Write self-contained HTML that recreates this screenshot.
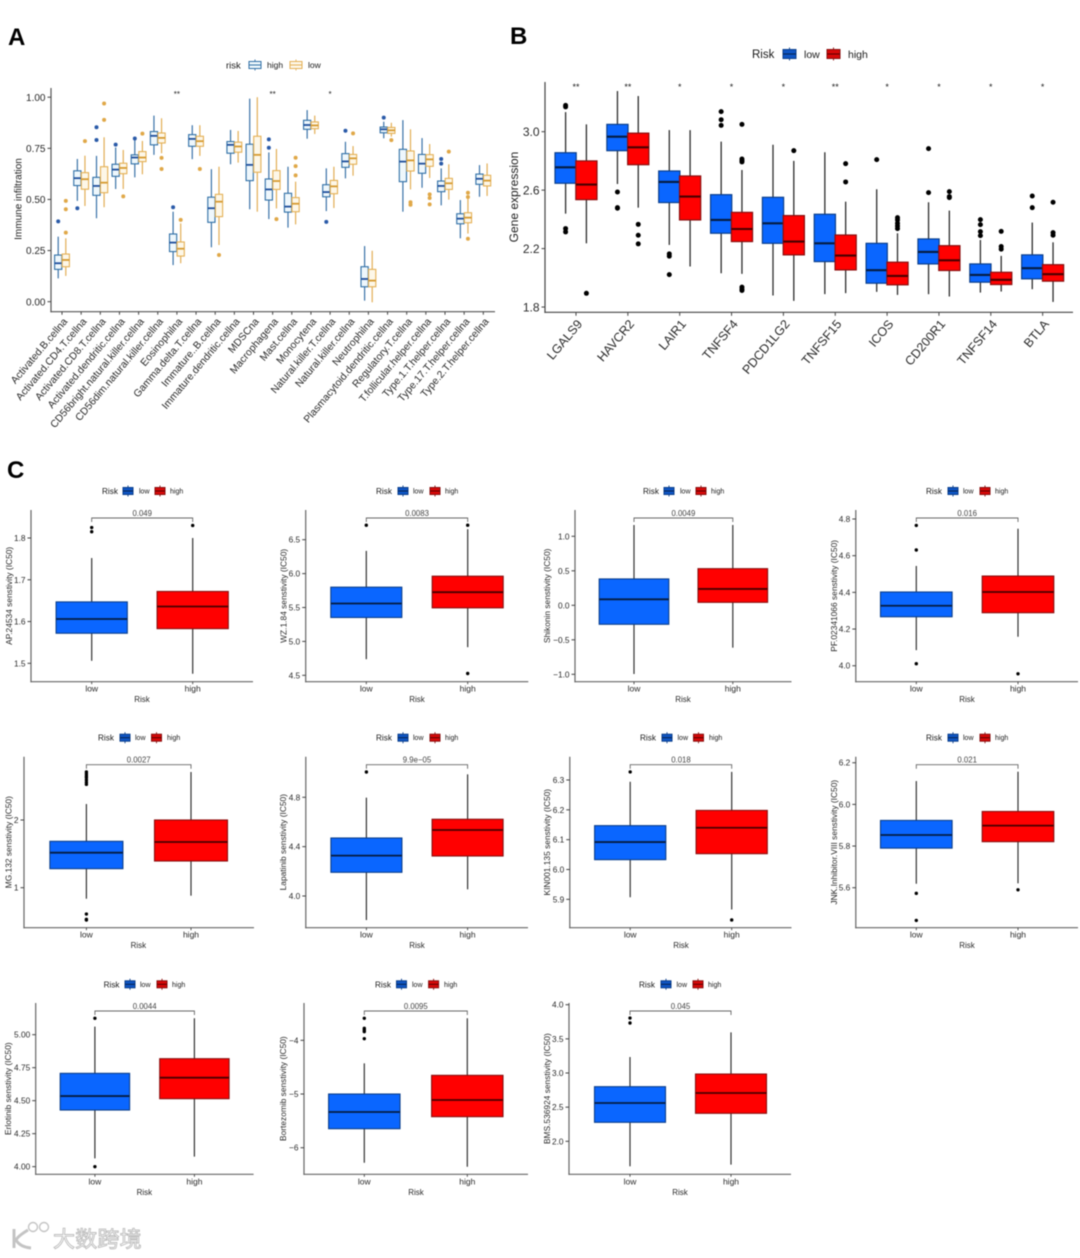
<!DOCTYPE html>
<html lang="en">
<head>
<meta charset="utf-8">
<title>Immune infiltration, gene expression and drug sensitivity by risk group</title>
<style>
html,body{margin:0;padding:0;background:#fff;}
#chart{display:block;width:1080px;height:1258px;filter:blur(0.5px);}
text{font-family:"Liberation Sans","Noto Sans CJK SC",sans-serif;}
</style>
</head>
<body>
<svg id="chart" xmlns="http://www.w3.org/2000/svg" width="1080" height="1258" viewBox="0 0 1080 1258">
  <rect x="0" y="0" width="1080" height="1258" fill="#ffffff"/>
  <text x="8" y="45" font-size="24" font-weight="bold" fill="#000">A</text>
  <text x="510" y="44" font-size="24" font-weight="bold" fill="#000">B</text>
  <text x="7" y="478" font-size="24" font-weight="bold" fill="#000">C</text>
  <g>
    <path d="M14 1229 V1248 M28 1230 Q18 1236 16 1240 Q20 1247 31 1248" fill="none" stroke="#c4c4c4" stroke-width="3"/>
    <circle cx="33" cy="1227" r="4.5" fill="none" stroke="#c4c4c4" stroke-width="1.4"/>
    <circle cx="44" cy="1227" r="4.5" fill="none" stroke="#c4c4c4" stroke-width="1.4"/>
    <text x="53" y="1247" font-size="22" letter-spacing="0.2" fill="#ffffff" stroke="#bdbdbd" stroke-width="0.9">大数跨境</text>
  </g>
</svg>
<script>
/* ---------- Panel A data: [whiskerLow, q1, median, q3, whiskerHigh] ---------- */
const immuneCategories = ["Activated.B.cellna","Activated.CD4.T.cellna","Activated.CD8.T.cellna","Activated.dendritic.cellna","CD56bright.natural.killer.cellna","CD56dim.natural.killer.cellna","Eosinophilna","Gamma.delta.T.cellna","Immature..B.cellna","Immature.dendritic.cellna","MDSCna","Macrophagena","Mast.cellna","Monocytena","Natural.killer.T.cellna","Natural.killer.cellna","Neutrophilna","Plasmacytoid.dendritic.cellna","Regulatory.T.cellna","T.follicular.helper.cellna","Type.1.T.helper.cellna","Type.17.T.helper.cellna","Type.2.T.helper.cellna"];
const immuneTicks = ["0.00","0.25","0.50","0.75","1.00"];
const immuneSignificance = ["","","","","","","**","","","","","**","","","*","","","","","","","",""];
const immuneHighStats = [
[.114,.158,.188,.228,.318],[.493,.568,.604,.64,.698],[.408,.52,.566,.608,.713],[.551,.613,.646,.672,.754],
[.608,.674,.705,.718,.791],[.718,.767,.811,.832,.91],[.179,.245,.289,.331,.44],[.697,.76,.796,.817,.863],
[.266,.388,.457,.511,.648],[.672,.726,.767,.783,.84],[.452,.592,.669,.77,.993],[.404,.497,.549,.6,.73],
[.362,.438,.465,.53,.66],[.797,.843,.864,.887,.937],[.443,.513,.536,.572,.652],[.603,.657,.686,.724,.782],
[.005,.073,.111,.171,.272],[.799,.826,.843,.854,.88],[.44,.587,.685,.745,.888],[.557,.628,.675,.72,.8],
[.471,.538,.566,.59,.652],[.31,.381,.406,.43,.497],[.513,.574,.601,.624,.668]];
const immuneLowStats = [
[.126,.171,.204,.233,.31],[.468,.55,.599,.631,.714],[.462,.533,.582,.66,.804],[.551,.626,.654,.677,.742],
[.623,.685,.705,.734,.786],[.726,.776,.801,.825,.897],[.188,.223,.259,.292,.383],[.713,.76,.785,.809,.863],
[.277,.416,.489,.525,.66],[.68,.731,.759,.78,.835],[.44,.633,.718,.809,1.0],[.456,.549,.59,.641,.747],
[.378,.44,.479,.509,.587],[.82,.846,.862,.879,.91],[.458,.528,.564,.593,.66],[.616,.672,.701,.72,.761],
[-.003,.073,.103,.158,.249],[.807,.823,.838,.852,.875],[.549,.639,.691,.737,.843],[.605,.662,.696,.719,.771],
[.499,.549,.579,.603,.672],[.333,.386,.411,.435,.502],[.517,.566,.592,.618,.676]];
const immuneHighOutliers = [[.393],[.457],[.853,.791],[.768],[.798],[],[.462],[],[],[],[],[.794,.753],[],[],[.39],[.836],[],[.9],[],[],[.698,.675],[],[]];
const immuneLowOutliers = [[.493,.452,.338],[.785],[.969,.889],[.515],[.822],[.703,.649],[.4],[.649],[.228],[],[],[.404],[.704,.663,.618],[],[],[.823],[],[.79],[.486,.474],[.525,.507,.476],[.734],[.533,.512,.308],[]];

/* ---------- Panel B data ---------- */
const geneCategories = ["LGALS9","HAVCR2","LAIR1","TNFSF4","PDCD1LG2","TNFSF15","ICOS","CD200R1","TNFSF14","BTLA"];
const geneTicks = ["1.8","2.2","2.6","3.0"];
const geneSignificance = ["**","**","*","*","*","**","*","*","*","*"];
const geneLowStats = [
[2.439,2.647,2.756,2.856,3.134],[2.642,2.87,2.966,3.05,3.278],[2.225,2.515,2.656,2.731,3.011],[2.031,2.305,2.396,2.569,2.932],
[1.879,2.236,2.373,2.551,2.911],[1.888,2.111,2.236,2.435,2.859],[1.904,1.963,2.052,2.236,2.606],[1.888,2.095,2.177,2.266,2.517],
[1.899,1.97,2.02,2.095,2.259],[1.922,1.993,2.066,2.157,2.378]];
const geneHighStats = [
[2.236,2.535,2.638,2.8,3.05],[2.48,2.774,2.893,2.99,3.244],[2.077,2.396,2.556,2.697,3.011],[2.027,2.248,2.334,2.448,2.738],
[1.842,2.157,2.248,2.426,2.8],[1.895,2.054,2.152,2.293,2.521],[1.883,1.952,2.013,2.107,2.305],[1.872,2.05,2.12,2.22,2.46],
[1.906,1.954,1.986,2.038,2.15],[1.835,1.977,2.025,2.09,2.243]];
const geneLowOutliers = [[3.18,3.17,2.337,2.314],[2.587,2.48,2.476],[2.164,2.148,2.022],[3.137,3.082,3.043],[],[],[2.809],[2.884,2.583],[2.398,2.364,2.316,2.289],[2.56,2.48]];
const geneHighOutliers = [[1.894],[2.366,2.291,2.232],[],[3.05,2.813,2.802,2.793,1.936,1.922,1.913],[2.87],[2.781,2.656],[2.412,2.396,2.373,2.355,2.337],[2.59,2.556,2.549],[2.318,2.214,2.196],[2.517,2.309,2.291]];

/* ---------- Panel C data ---------- */
const drugNames = ["AP.24534","WZ.1.84","Shikonin","PF.02341066","MG.132","Lapatinib","KIN001.135","JNK.Inhibitor.VIII","Erlotinib","Bortezomib","BMS.536924"];
const drugPValues = ["0.049","0.0083","0.0049","0.016","0.0027","9.9e\u221205","0.018","0.021","0.0044","0.0095","0.045"];
const drugTicks = [
["1.5","1.6","1.7","1.8"],["4.5","5.0","5.5","6.0","6.5"],["\u22121.0","\u22120.5","0.0","0.5","1.0"],["4.0","4.2","4.4","4.6","4.8"],
["1","2"],["4.0","4.4","4.8"],["5.9","6.0","6.1","6.2","6.3"],["5.6","5.8","6.0","6.2"],
["4.00","4.25","4.50","4.75","5.00"],["\u22126","\u22125","\u22124"],["2.0","2.5","3.0","3.5","4.0"]];
const drugDomains = [[1.456,1.867],[4.406,6.938],[-1.107,1.381],[3.913,4.849],[.409,2.935],[3.743,5.129],[5.805,6.378],[5.408,6.229],[3.942,5.24],[-6.495,-3.305],[1.517,4.025]];
const drugLowStats = [
[1.506,1.572,1.606,1.647,1.752],[4.738,5.353,5.559,5.80,6.335],[-.995,-.275,.087,.382,1.164],[4.085,4.267,4.327,4.402,4.544],
[.837,1.281,1.517,1.685,2.236],[3.805,4.192,4.327,4.47,4.797],[5.907,6.033,6.092,6.147,6.294],[5.619,5.79,5.853,5.923,6.112],
[4.063,4.429,4.535,4.707,5.061],[-6.28,-5.646,-5.335,-5.0,-4.429],[1.634,2.278,2.561,2.8,3.234]];
const drugHighStats = [
[1.475,1.583,1.636,1.672,1.8],[4.915,5.495,5.726,5.962,6.655],[-.614,.043,.237,.531,1.164],[4.158,4.289,4.402,4.489,4.747],
[.882,1.394,1.675,2.0,2.709],[4.054,4.324,4.535,4.622,4.986],[5.866,6.053,6.14,6.198,6.327],[5.621,5.821,5.898,5.966,6.157],
[4.076,4.515,4.674,4.818,5.124],[-6.354,-5.422,-5.112,-4.652,-3.59],[1.659,2.41,2.707,2.985,3.595]];
const drugLowOutliers = [[1.825,1.815],[6.714],[],[4.765,4.631,4.011],[2.709,2.68,2.65,2.626,2.591,2.557,2.527,.611,.532,.522],[5.005],[6.327],[5.573,5.443],[5.124,4.0],[-3.59,-3.776,-3.807,-3.839,-3.969],[3.805,3.732]];
const drugHighOutliers = [[1.83],[6.714,4.527],[],[3.956],[],[],[5.831],[5.59],[],[],[]];

/* ---------- Layout (pixels, separate from data) ---------- */
const panelAFrame = {left:51,right:495,top:88,bottom:311.7,domain:[-.049,1.045],firstX:62,stepX:19.15,offset:3.8,half:3.6};
const panelBFrame = {left:545,right:1073,top:82,bottom:312.3,domain:[1.764,3.34],firstX:576,stepX:51.85,offset:10.4,half:10.6};
const drugFrames = [
{l:31,r:253,t:510,b:681.7,c0:91.7,c1:192.7,h:35.6,rk:102,k0:123,lo:139,k1:155,hi:170,ly:491,yl:9,xl:142},
{l:305.7,r:528.3,t:510,b:681.7,c0:366.3,c1:467.7,h:35.5,rk:376,k0:398,lo:413,k1:430,hi:445,ly:491,yl:283.3,xl:417},
{l:575,r:791.5,t:510,b:681.7,c0:634,c1:732.8,h:34.8,rk:643,k0:664,lo:680,k1:696,hi:711,ly:491,yl:547,xl:683},
{l:855.8,r:1078,t:510,b:681.7,c0:916.3,c1:1018,h:35.8,rk:926,k0:948,lo:963,k1:980,hi:995,ly:491,yl:834,xl:967},
{l:24,r:254,t:756.7,b:927.7,c0:86.4,c1:191,h:36.5,rk:98,k0:120,lo:135,k1:151.5,hi:167,ly:737.7,yl:8.6,xl:138.4},
{l:305.8,r:528,t:756.7,b:927.7,c0:366.4,c1:467.6,h:35.5,rk:376,k0:398,lo:413,k1:430,hi:445,ly:737.7,yl:283,xl:417},
{l:569.8,r:791.5,t:756.7,b:927.7,c0:630.2,c1:731.7,h:35.6,rk:640,k0:662,lo:677.5,k1:693.5,hi:709,ly:737.7,yl:547,xl:681},
{l:855.8,r:1078,t:756.7,b:927.7,c0:916.3,c1:1018,h:35.8,rk:926,k0:948,lo:963,k1:980,hi:995,ly:737.7,yl:834,xl:967},
{l:35.7,r:253.6,t:1003,b:1174.3,c0:94.9,c1:194.4,h:34.7,rk:103.6,k0:125,lo:140,k1:157,hi:172,ly:984.3,yl:8,xl:144.4},
{l:304,r:528,t:1003,b:1174.3,c0:364.3,c1:467.3,h:35.7,rk:375,k0:396.5,lo:412,k1:428.6,hi:444,ly:984.3,yl:283,xl:416},
{l:569,r:791,t:1003,b:1174.3,c0:630,c1:731,h:35.5,rk:639,k0:661,lo:676.5,k1:693,hi:708,ly:984.3,yl:547,xl:680}];

const styleHighA = {fill:"#eef7fc",stroke:"#2f6fa6",median:"#1f4f9c",whisker:"#3a72a8",dot:"#2a5aa8",boxW:1.1,medW:1.8,whiskW:1.2,r:2};
const styleLowA = {fill:"#fdf7e8",stroke:"#e4b055",median:"#d69a30",whisker:"#e2ae55",dot:"#e0a848",boxW:1.1,medW:1.8,whiskW:1.2,r:2};
const styleLowB = {fill:"#0a66ff",stroke:"#0b3f8c",median:"#051c42",whisker:"#2d2d2d",dot:"#000",boxW:1.2,medW:2.1,whiskW:1.3,r:2.5};
const styleHighB = {fill:"#ff0000",stroke:"#8a0f0f",median:"#4a0000",whisker:"#2d2d2d",dot:"#000",boxW:1.2,medW:2.1,whiskW:1.3,r:2.5};
const styleLowC = {fill:"#0a66ff",stroke:"#0b3f8c",median:"#051c42",whisker:"#333",dot:"#000",boxW:1.1,medW:1.8,whiskW:1.2,r:1.7};
const styleHighC = {fill:"#ff0000",stroke:"#8a0f0f",median:"#4a0000",whisker:"#333",dot:"#000",boxW:1.1,medW:1.8,whiskW:1.2,r:1.7};

const root = document.getElementById('chart');
const NS = "http://www.w3.org/2000/svg";

function make(tag, attrs, parent) {
  const el = document.createElementNS(NS, tag);
  for (const key in attrs) {
    el.setAttribute(key, attrs[key]);
  }
  parent.appendChild(el);
  return el;
}
function linearScale(domain, bottom, top) {
  return function (v) {
    return bottom + (v - domain[0]) * (top - bottom) / (domain[1] - domain[0]);
  };
}
function parseTick(label) {
  return parseFloat(String(label).replace("\u2212", "-"));
}
function drawBox(parent, label, cx, half, stats, outliers, yScale, st) {
  const g = make('g', {}, parent);
  
  
  const whisker = make('line', {x1:cx,x2:cx,y1:yScale(stats[0]),y2:yScale(stats[4]),stroke:st.whisker,'stroke-width':st.whiskW}, g);
  
  
  const box = make('rect', {x:cx-half,y:yScale(stats[3]),width:half*2,height:yScale(stats[1])-yScale(stats[3]),fill:st.fill,stroke:st.stroke,'stroke-width':st.boxW}, g);
  
  
  const median = make('line', {x1:cx-half,x2:cx+half,y1:yScale(stats[2]),y2:yScale(stats[2]),stroke:st.median,'stroke-width':st.medW}, g);
  
  
  outliers.forEach(function (v) {
    const dot = make('circle', {cx:cx,cy:yScale(v),r:st.r,fill:st.dot}, g);
    
    
  });
}
function drawAxes(parent, prefix, left, right, top, bottom, color) {
  const yAxis = make('line', {x1:left,x2:left,y1:top,y2:bottom+0.6,stroke:color,'stroke-width':1.2}, parent);
  
  
  const xAxis = make('line', {x1:left-0.6,x2:right,y1:bottom,y2:bottom,stroke:color,'stroke-width':1.2}, parent);
  
  
}
function drawYTicks(parent, prefix, labels, yScale, left, fontSize) {
  labels.forEach(function (lab) {
    const y = yScale(parseTick(lab));
    const tick = make('line', {x1:left-3.5,x2:left,y1:y,y2:y,stroke:'#444','stroke-width':1}, parent);
    
    
    const t = make('text', {x:left-5.5,y:y+fontSize*0.36,'text-anchor':'end','font-size':fontSize,fill:'#2a2a2a'}, parent);
    
    
    t.textContent = lab;
  });
}
function drawLegendKey(parent, label, x, y, w, h, fill, stroke, median) {
  const g = make('g', {}, parent);
  
  
  make('line', {x1:x+w/2,x2:x+w/2,y1:y-h/2-2,y2:y+h/2+2,stroke:stroke,'stroke-width':0.9}, g);
  make('rect', {x:x,y:y-h/2,width:w,height:h,fill:fill,stroke:stroke,'stroke-width':1}, g);
  make('line', {x1:x,x2:x+w,y1:y,y2:y,stroke:median,'stroke-width':1}, g);
}
function legendText(parent, name, x, y, size, content) {
  const t = make('text', {x:x,y:y+size*0.36,'font-size':size,fill:'#1a1a1a'}, parent);
  
  
  t.textContent = content;
}

/* ---------- Panel A ---------- */
(function () {
  const f = panelAFrame;
  const g = make('g', {}, root);
  
  
  const yScale = linearScale(f.domain, f.bottom, f.top);
  const xPos = function (i) { return f.firstX + i * f.stepX; };
  drawAxes(g, 'immune', f.left, f.right, f.top, f.bottom, '#555');
  drawYTicks(g, 'immune', immuneTicks, yScale, f.left, 10);
  immuneCategories.forEach(function (name, i) {
    const cx = xPos(i);
    drawBox(g, 'immune-high-' + i, cx - f.offset, f.half, immuneHighStats[i], immuneHighOutliers[i], yScale, styleHighA);
    drawBox(g, 'immune-low-' + i, cx + f.offset, f.half, immuneLowStats[i], immuneLowOutliers[i], yScale, styleLowA);
    const tick = make('line', {x1:cx,x2:cx,y1:f.bottom,y2:f.bottom+3,stroke:'#444','stroke-width':1}, g);
    
    
    const t = make('text', {x:cx+6,y:f.bottom+10,'text-anchor':'end','font-size':10.3,fill:'#2a2a2a',transform:'rotate(-50 '+(cx+6)+' '+(f.bottom+10)+')'}, g);
    
    
    t.textContent = name;
    if (immuneSignificance[i]) {
      const s = make('text', {x:cx,y:97,'text-anchor':'middle','font-size':8,fill:'#222'}, g);
      
      
      s.textContent = immuneSignificance[i];
    }
  });
  const yt = make('text', {x:0,y:0,'text-anchor':'middle','font-size':10,fill:'#222',transform:'translate(21.5 199) rotate(-90)'}, g);
  
  
  yt.textContent = 'Immune infiltration';
  legendText(g, 'immune-legend-title', 226, 65, 9.5, 'risk');
  drawLegendKey(g, 'immune-high', 249, 65, 12, 7, '#eef7fc', '#2f6fa6', '#2f6fa6');
  legendText(g, 'immune-legend-high', 267, 65, 8.5, 'high');
  drawLegendKey(g, 'immune-low', 290, 65, 12, 7, '#fdf7e8', '#e4b055', '#e4b055');
  legendText(g, 'immune-legend-low', 308, 65, 8.5, 'low');
})();

/* ---------- Panel B ---------- */
(function () {
  const f = panelBFrame;
  const g = make('g', {}, root);
  
  
  const yScale = linearScale(f.domain, f.bottom, f.top);
  const xPos = function (i) { return f.firstX + i * f.stepX; };
  drawAxes(g, 'gene', f.left, f.right, f.top, f.bottom, '#444');
  drawYTicks(g, 'gene', geneTicks, yScale, f.left, 12);
  geneCategories.forEach(function (name, i) {
    const cx = xPos(i);
    drawBox(g, 'gene-low-' + name, cx - f.offset, f.half, geneLowStats[i], geneLowOutliers[i], yScale, styleLowB);
    drawBox(g, 'gene-high-' + name, cx + f.offset, f.half, geneHighStats[i], geneHighOutliers[i], yScale, styleHighB);
    const tick = make('line', {x1:cx,x2:cx,y1:f.bottom,y2:f.bottom+3.5,stroke:'#444','stroke-width':1}, g);
    
    
    const t = make('text', {x:cx+7,y:f.bottom+12,'text-anchor':'end','font-size':12.5,fill:'#2a2a2a',transform:'rotate(-50 '+(cx+7)+' '+(f.bottom+12)+')'}, g);
    
    
    t.textContent = name;
    const s = make('text', {x:cx,y:90,'text-anchor':'middle','font-size':9,fill:'#222'}, g);
    
    
    s.textContent = geneSignificance[i];
  });
  const yt = make('text', {x:0,y:0,'text-anchor':'middle','font-size':12,fill:'#222',transform:'translate(518 197) rotate(-90)'}, g);
  
  
  yt.textContent = 'Gene expression';
  legendText(g, 'gene-legend-title', 752, 54, 11.5, 'Risk');
  drawLegendKey(g, 'gene-low', 783, 54, 13, 9, '#0f55c4', '#0b3f8c', '#06224f');
  legendText(g, 'gene-legend-low', 804, 54, 10.5, 'low');
  drawLegendKey(g, 'gene-high', 827, 54, 13, 9, '#d80808', '#8a0f0f', '#5a0000');
  legendText(g, 'gene-legend-high', 848, 54, 10.5, 'high');
})();

/* ---------- Panel C ---------- */
drugNames.forEach(function (drug, i) {
  const f = drugFrames[i];
  const g = make('g', {}, root);
  
  
  const yScale = linearScale(drugDomains[i], f.b, f.t);
  drawAxes(g, 'drug', f.l, f.r, f.t, f.b, '#666');
  drawYTicks(g, 'drug', drugTicks[i], yScale, f.l, 8.3);
  drawBox(g, drug + '-low', f.c0, f.h, drugLowStats[i], drugLowOutliers[i], yScale, styleLowC);
  drawBox(g, drug + '-high', f.c1, f.h, drugHighStats[i], drugHighOutliers[i], yScale, styleHighC);
  [[f.c0, 'low'], [f.c1, 'high']].forEach(function (pair) {
    const tick = make('line', {x1:pair[0],x2:pair[0],y1:f.b,y2:f.b+2.5,stroke:'#444','stroke-width':0.9}, g);
    
    
    const t = make('text', {x:pair[0],y:f.b+10,'text-anchor':'middle','font-size':8.5,fill:'#2a2a2a'}, g);
    
    
    t.textContent = pair[1];
  });
  const by = f.t + 8;
  const bracket = make('path', {d:'M'+f.c0+' '+(by+4)+' V'+by+' H'+f.c1+' V'+(by+4),fill:'none',stroke:'#666','stroke-width':0.9}, g);
  
  
  const p = make('text', {x:(f.c0+f.c1)/2,y:by-2,'text-anchor':'middle','font-size':7.8,fill:'#444'}, g);
  
  
  p.textContent = drugPValues[i];
  const xt = make('text', {x:f.xl,y:f.b+20.5,'text-anchor':'middle','font-size':8,fill:'#2a2a2a'}, g);
  
  
  xt.textContent = 'Risk';
  const yc = (f.t + f.b) / 2 + 0;
  const yt = make('text', {x:0,y:0,'text-anchor':'middle','font-size':8.4,fill:'#2a2a2a',transform:'translate('+(f.yl+3)+' '+yc+') rotate(-90)'}, g);
  
  
  yt.textContent = drug + ' senstivity (IC50)';
  legendText(g, 'drug-legend-title', f.rk, f.ly, 8.2, 'Risk');
  drawLegendKey(g, 'drug-low', f.k0, f.ly, 10, 7, '#0f55c4', '#0b3f8c', '#06224f');
  legendText(g, 'drug-legend-low', f.lo, f.ly, 7, 'low');
  drawLegendKey(g, 'drug-high', f.k1, f.ly, 10, 7, '#d80808', '#8a0f0f', '#5a0000');
  legendText(g, 'drug-legend-high', f.hi, f.ly, 7, 'high');
});
</script>
</body>
</html>
